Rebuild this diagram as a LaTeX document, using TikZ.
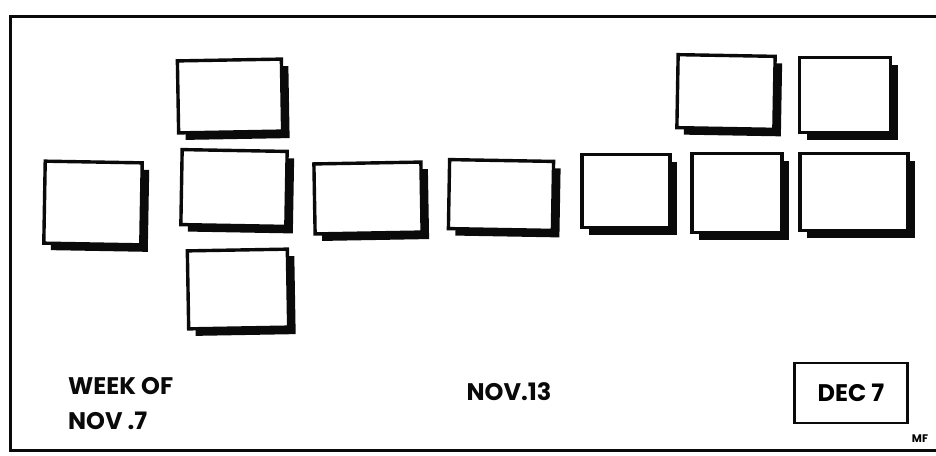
\documentclass[tikz,border=0pt]{standalone}
\usepackage{fontspec}
\usepackage{xcolor}
\usepackage{tikz}
\usetikzlibrary{positioning,shadows}
\newfontfamily\handfont{Poppins}
\definecolor{inkblack}{HTML}{0A0A0A}
\tikzset{
  card/.style={draw=inkblack,fill=white,line width=3.4pt,inner sep=0pt,
    drop shadow={shadow xshift=7pt,shadow yshift=-7pt,fill=inkblack,opacity=1}},
  frameline/.style={draw=inkblack,line width=3pt},
  label/.style={font=\handfont\bfseries\fontsize{24}{27}\selectfont,text=inkblack,inner sep=0pt,anchor=west},
}

\begin{document}
\begin{tikzpicture}[x=1pt,y=-1pt]
  \useasboundingbox (0,0) rectangle (936,455);
  % frame, open at the right
  \coordinate (ftr) at (936,16);
  \coordinate (ftl) at (10,16);
  \coordinate (fbl) at (10,450);
  \coordinate (fbr) at (936,450);
  \draw[frameline] (ftr) -- (ftl) -- (fbl) -- (fbr);
  % week of nov 7
  \node[card,minimum width=97pt,minimum height=82pt,rotate=-1] (w1) at (93,203) {};
  % nov 13 column
  \node[card,minimum width=104pt,minimum height=72pt,rotate=1] (c1) at (230,96) {};
  \node[card,minimum width=105pt,minimum height=75pt,rotate=-1] (c2) at (234,188) {};
  \node[card,minimum width=100pt,minimum height=78pt,rotate=1] (c3) at (238,289) {};
  % row
  \node[card,minimum width=107pt,minimum height=70pt,rotate=1] (r1) at (368,198) {};
  \node[card,minimum width=104pt,minimum height=69pt,rotate=-1] (r2) at (501,195) {};
  \node[card,minimum width=88pt,minimum height=73pt] (r3) at (626,191) {};
  % right group
  \node[card,minimum width=97pt,minimum height=73pt,rotate=-1] (t1) at (726,92) {};
  \node[card,minimum width=91pt,minimum height=75pt] (t2) at (845,95) {};
  \node[card,minimum width=90pt,minimum height=79pt] (b1) at (737,193) {};
  \node[card,minimum width=108pt,minimum height=77pt] (b2) at (854,192) {};
  % texts
  \node[label] (week) at (68,386) {WEEK OF};
  \node[label] (nov7) at (68,421) {NOV .7};
  \node[label,anchor=center] (nov13) at (509,392) {NOV.13};
  \node[draw=inkblack,line width=2.6pt,minimum width=113pt,minimum height=60pt,inner sep=0pt,
    font=\handfont\bfseries\fontsize{24}{27}\selectfont] (dec) at (851,393) {DEC 7};
  \node[font=\handfont\bfseries\fontsize{11}{12}\selectfont,inner sep=0pt] (sign) at (920,439) {MF};
\end{tikzpicture}
\end{document}
